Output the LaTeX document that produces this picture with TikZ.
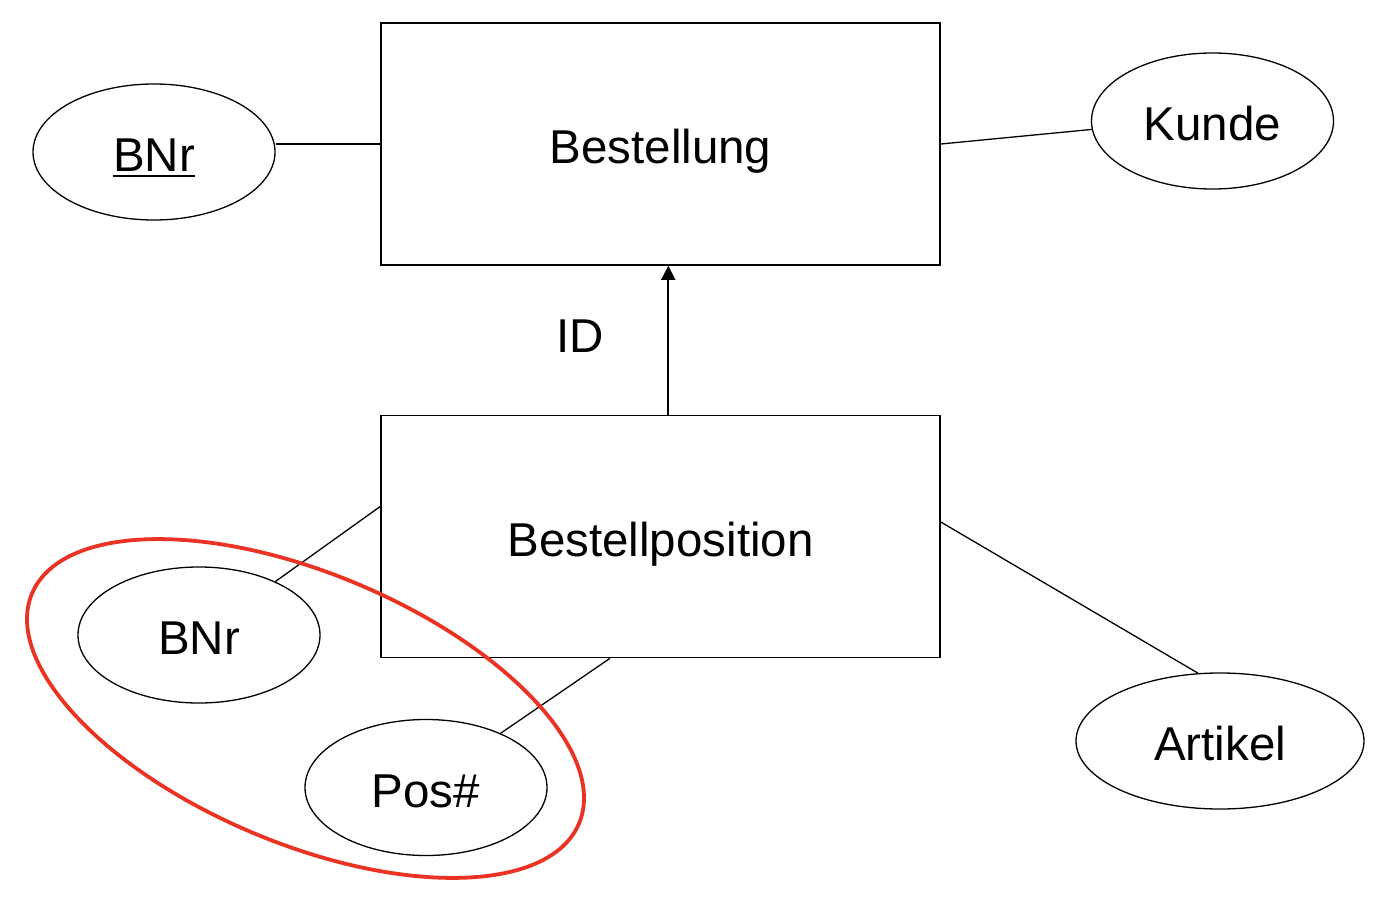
\documentclass[tikz,border=0pt]{standalone}
\usepackage{fontspec}
\setmainfont{Liberation Sans}
\usetikzlibrary{shapes.geometric,arrows.meta}
\definecolor{grpred}{RGB}{234,51,35}
\newcommand{\myul}[1]{\setbox0\hbox{#1}\rlap{\rule[-6pt]{\wd0}{2.2pt}}#1}
\tikzset{
  lbl/.style={font=\fontsize{47.5}{57}\selectfont, text height=39pt, text depth=0pt, inner sep=0pt},
  entity/.style={lbl, draw, line width=1.6pt, minimum width=559pt, minimum height=242pt},
  attr/.style={lbl, ellipse, draw, line width=1.3pt, minimum width=242pt, minimum height=136pt},
  conn/.style={line width=1.3pt},
  idarrow/.style={line width=1.8pt, -{Triangle[length=14pt,width=14pt]}},
  group/.style={draw=grpred, line width=3.8pt}
}
\begin{document}
\begin{tikzpicture}[x=1pt,y=-1pt]
\useasboundingbox (0,0) rectangle (1376,904);
% entities
\node[entity] (best) at (660.5,144) {Bestellung};
\node[entity] (bpos) at (660.5,536.5) {Bestellposition};
% attributes
\node[attr] (bnr1) at (154,152) {\myul{BNr}};
\node[attr] (kunde) at (1212.5,121) {Kunde};
\node[attr] (bnr2) at (199,635) {BNr};
\node[attr] (pos) at (426,787.5) {Pos\#};
\node[attr, minimum width=288pt] (artikel) at (1220,741) {Artikel};
% label
\node[lbl] (id) at (580,332.5) {ID};
% connectors
\draw[conn] (best.west -| bnr1.east) -- (best.west);
\draw[conn] (best.east) -- (kunde.184);
\draw[conn] (bnr2.35) -- ([yshift=30pt]bpos.west);
\draw[conn] (pos.36) -- ([xshift=-50.5pt]bpos.south);
\draw[conn] ([yshift=14.5pt]bpos.east) -- (artikel.108);
\draw[idarrow] ([xshift=7.8pt]bpos.north) -- ([xshift=7.8pt]best.south);
% group ellipse
\node[group, ellipse, minimum width=593.4pt, minimum height=270pt, inner sep=0pt, rotate=-22.8] (grp) at (305.5,708.5) {};
\end{tikzpicture}
\end{document}
